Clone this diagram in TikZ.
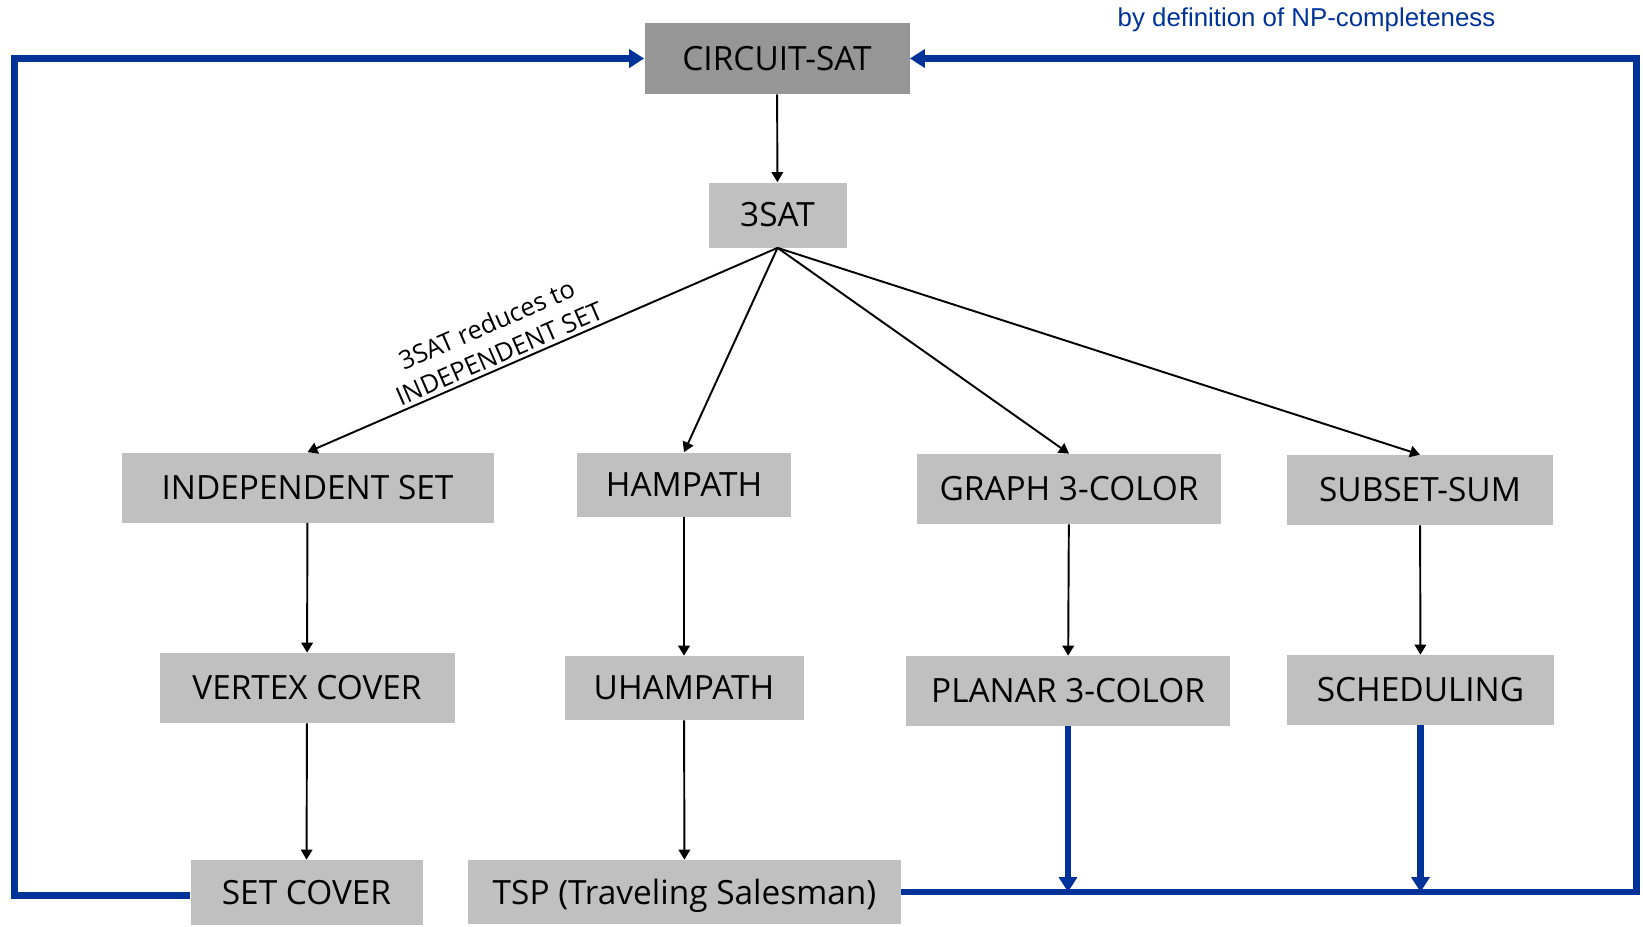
\documentclass[tikz,border=0pt]{standalone}
\usepackage{fontspec}
\setmainfont{Open Sans}
\newfontfamily\arialfont{Liberation Sans}
\usepackage{xcolor}
\usepackage{tikz}
\usetikzlibrary{positioning, arrows.meta}
\definecolor{npblue}{HTML}{003399}
\definecolor{boxgray}{HTML}{C0C0C0}
\definecolor{topgray}{HTML}{969696}

\begin{document}
\begin{tikzpicture}[
  probbox/.style={fill=boxgray, inner sep=0pt, minimum height=1.4cm, align=center, font=\fontsize{19}{22}\selectfont},
  redarrow/.style={-{Triangle[length=2mm, width=2.3mm]}, line width=1.1pt, black},
  nparrow/.style={line width=3.6pt, npblue}
]
  \useasboundingbox (0,0) rectangle (32.86,-18.52);
  \node[probbox, fill=topgray, minimum width=5.3cm, minimum height=1.42cm] (cs) at (15.54,-1.17) {CIRCUIT-SAT};
  \node[probbox, minimum width=2.76cm, minimum height=1.3cm] (sat) at (15.55,-4.30) {3SAT};
  \node[probbox, minimum width=7.44cm] (is) at (6.15,-9.75) {INDEPENDENT SET};
  \node[probbox, minimum width=4.28cm, minimum height=1.28cm] (hp) at (13.68,-9.69) {HAMPATH};
  \node[probbox, minimum width=6.08cm] (gc) at (21.38,-9.78) {GRAPH 3-COLOR};
  \node[probbox, minimum width=5.32cm] (ss) at (28.40,-9.80) {SUBSET-SUM};
  \node[probbox, minimum width=5.9cm] (vc) at (6.14,-13.76) {VERTEX COVER};
  \node[probbox, minimum width=4.78cm, minimum height=1.28cm] (uhp) at (13.68,-13.76) {UHAMPATH};
  \node[probbox, minimum width=6.48cm] (pc) at (21.36,-13.82) {PLANAR 3-COLOR};
  \node[probbox, minimum width=5.34cm] (sch) at (28.41,-13.80) {SCHEDULING};
  \node[probbox, minimum width=4.64cm, minimum height=1.3cm] (sc) at (6.13,-17.85) {SET COVER};
  \node[probbox, minimum width=8.66cm, minimum height=1.28cm, text depth=0pt] (tsp) at (13.69,-17.84) {TSP (Traveling Salesman)};
  \node[npblue, font=\arialfont\fontsize{14.7}{16}\selectfont] (def) at (26.13,-0.40) {by definition of NP-completeness};

  % reductions
  \draw[redarrow] (cs) -- (sat);
  \draw[redarrow] (sat.south) -- node[pos=0.58, sloped, above, inner sep=2pt, align=center, font=\fontsize{14.5}{18}\selectfont] {3SAT reduces to\\INDEPENDENT SET} (is.north);
  \draw[redarrow] (sat.south) -- (hp.north);
  \draw[redarrow] (sat.south) -- (gc.north);
  \draw[redarrow] (sat.south) -- (ss.north);
  \draw[redarrow] (is) -- (vc);
  \draw[redarrow] (vc) -- (sc);
  \draw[redarrow] (hp) -- (uhp);
  \draw[redarrow] (uhp) -- (tsp);
  \draw[redarrow] (gc) -- (pc);
  \draw[redarrow] (ss) -- (sch);

  % back to CIRCUIT-SAT
  \coordinate (lft) at (0.29,-9);
  \coordinate (rgt) at (32.73,-9);
  \draw[nparrow, -{Triangle[length=3mm, width=3.6mm]}] ([yshift=-0.06cm]sc.west) -| (lft) |- (cs.west);
  \draw[nparrow, -{Triangle[length=3mm, width=3.6mm]}] (tsp.east) -| (rgt) |- (cs.east);
  \draw[nparrow, -{Triangle[length=3mm, width=3.6mm]}] (pc.south) -- (pc.south |- tsp.east);
  \draw[nparrow, -{Triangle[length=3mm, width=3.6mm]}] (sch.south) -- (sch.south |- tsp.east);
\end{tikzpicture}
\end{document}
